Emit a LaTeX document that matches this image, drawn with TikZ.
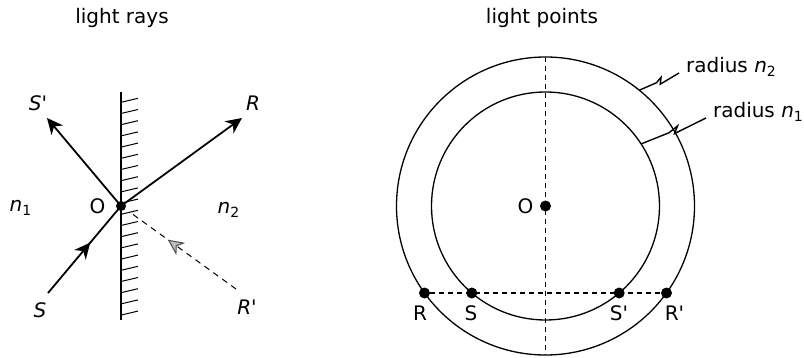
\documentclass[tikz,border=0pt]{standalone}
\usepackage{fontspec}
\setmainfont{DejaVu Sans}
\usetikzlibrary{arrows.meta,decorations.markings,calc}

\begin{document}
\begin{tikzpicture}[x=0.5pt,y=-0.5pt,
    dot/.style={circle,fill,inner sep=0pt,minimum size=5pt},
    bigdot/.style={circle,fill,inner sep=0pt,minimum size=5.5pt},
    ray/.style={line width=0.9pt},
    tip/.style={-{Stealth[length=8pt,width=7.5pt,inset=2.5pt]}},
    midtip/.style={postaction={decorate},decoration={markings,
        mark=at position #1 with {\arrow{Stealth[length=8pt,width=7.5pt,inset=2.5pt]}}}},
    greytip/.style={postaction={decorate},decoration={markings,
        mark=at position #1 with {\arrow{Stealth[length=8pt,width=7.5pt,inset=2.5pt,color=gray!60!black,fill=gray!50]}}}},
    dashline/.style={line width=0.5pt,dash pattern=on 3pt off 2.5pt},
    axisline/.style={line width=0.6pt,dash pattern=on 2.5pt off 2pt},
    ring/.style={line width=0.65pt},
    zap/.style={line width=0.7pt,to path={-- ($(\tikztostart)!0.43!(\tikztotarget)$)
        -- ($(\tikztostart)!0.58!(\tikztotarget)!1.6pt!90:(\tikztotarget)$)
        -- ($(\tikztostart)!0.5!(\tikztotarget)!1.4pt!-90:(\tikztotarget)$) -- (\tikztotarget)}}]
    \useasboundingbox (0,0) rectangle (804,358);

    \node (title1) at (122,18) {light rays};
    \node (title2) at (542,18) {light points};

    \draw[line width=0.65pt] (121,92)--(121,320);
    \foreach \k in {0,...,19}
        \draw[line width=0.5pt] (121,102.3+11.2*\k)--++(17,-4);

    \node[dot] (O) at (121,206) {};
    \coordinate (S) at (48,293);
    \coordinate (Sp) at (47,118);
    \coordinate (R) at (242,118);
    \coordinate (Rp) at (236,289);
    \coordinate (Oe) at (131,213);
    \draw[ray,midtip=0.58] (S)--(O.center);
    \draw[ray,tip] (O.center)--(Sp);
    \draw[ray,tip] (O.center)--(R);
    \draw[dashline,greytip=0.65] (Rp)--(Oe);

    \node (labSp) at (38,103) {\textit{S\textquotesingle}};
    \node (labR) at (253,103) {\textit{R}};
    \node (labS) at (40,310) {\textit{S}};
    \node (labRp) at (247,307) {\textit{R\textquotesingle}};
    \node (labO) at (97.5,206.5) {O};
    \node (n1) at (21,208) {\textit{n}\textsubscript{1}};
    \node (n2) at (229,210) {\textit{n}\textsubscript{2}};

    \coordinate (C) at (545.5,206);
    \draw[ring] (C) circle[radius=74.5pt];
    \draw[ring] (C) circle[radius=57pt];
    \coordinate (top) at (545.5,57);
    \coordinate (bot) at (545.5,355);
    \draw[axisline] (top)--(bot);

    \node[bigdot] (pO) at (C) {};
    \node[bigdot] (pR) at (424.5,293) {};
    \node[bigdot] (pS) at (471.8,293) {};
    \node[bigdot] (pSp) at (619.2,293) {};
    \node[bigdot] (pRp) at (666.5,293) {};
    \draw[axisline] (pR)--(pRp);

    \node (labpO) at (525.5,206.5) {O};
    \node (labpR) at (420,313.5) {R};
    \node (labpS) at (471,313.5) {S};
    \node (labpSp) at (619,313.5) {S\textquotesingle};
    \node (labpRp) at (674.5,313.5) {R\textquotesingle};

    \node[anchor=base west] (r2) at (679,73) {radius \textit{n}\textsubscript{2}};
    \node[anchor=base west] (r1) at (706,118) {radius \textit{n}\textsubscript{1}};
    \coordinate (c2) at ($(C)+(51:74.5pt)$);
    \coordinate (c1) at ($(C)+(33:57pt)$);
    \draw[zap] (c2) to (r2.base west);
    \draw[zap] (c1) to (r1.base west);
\end{tikzpicture}
\end{document}
